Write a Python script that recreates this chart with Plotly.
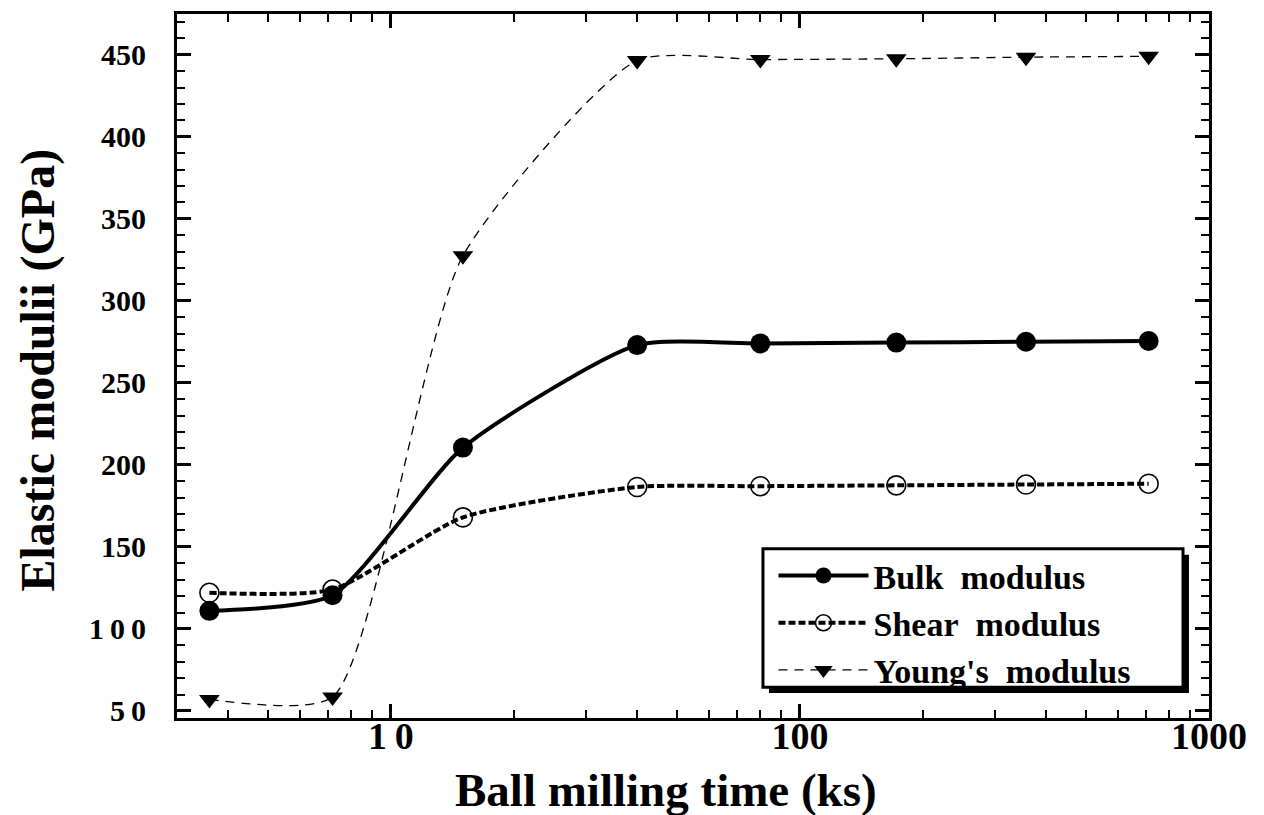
import math
import plotly.graph_objects as go

# ---- data ----
time_ks = [3.6, 7.2, 15, 40, 80, 172, 357, 712]
bulk_modulus = [111, 120.5, 210.5, 273, 274, 274.5, 275, 275.5]
shear_modulus = [122, 124, 168, 186.5, 187, 187.5, 188, 188.5]
youngs_modulus = [57, 58.5, 327.5, 446.5, 447, 447.5, 448.5, 449]

series_names = ["Bulk\u00a0 modulus", "Shear\u00a0 modulus", "Young's\u00a0 modulus"]

y_tick_vals = [50, 100, 150, 200, 250, 300, 350, 400, 450]
y_tick_text = ["5\u20090", "1\u20090\u20090", "150", "200", "250", "300", "350", "400", "450"]
y_minor_vals = [v for v in range(50, 471, 10) if v % 50 != 0]

x_tick_vals = [10, 100, 1000]
x_tick_text = ["1\u20090", "100", "1000"]
x_minor_vals = [m * d for d in (1, 10, 100) for m in range(2, 10) if 3 < m * d < 1000]

FONT = "Liberation Serif, Times New Roman, serif"

fig = go.Figure()

fig.add_trace(go.Scatter(
    x=time_ks, y=youngs_modulus, name=series_names[2], legendrank=3,
    mode="lines+markers",
    line=dict(color="black", width=1.3, dash="9px,7px", shape="spline", smoothing=0.6),
    marker=dict(symbol="triangle-down", size=18, color="black"),
))
fig.add_trace(go.Scatter(
    x=time_ks, y=shear_modulus, name=series_names[1], legendrank=2,
    mode="lines+markers",
    line=dict(color="black", width=4, dash="7px,3px", shape="spline", smoothing=0.6),
    marker=dict(symbol="circle-open", size=19, color="black", line=dict(width=1.6, color="black")),
))
fig.add_trace(go.Scatter(
    x=time_ks, y=bulk_modulus, name=series_names[0], legendrank=1,
    mode="lines+markers",
    line=dict(color="black", width=4, shape="spline", smoothing=0.6),
    marker=dict(symbol="circle", size=20, color="black"),
))

axis_common = dict(
    showline=True, linecolor="black", linewidth=3, mirror="ticks",
    ticks="inside", ticklen=14, tickwidth=2.5, tickcolor="black",
    showgrid=False, zeroline=False,
)

fig.update_xaxes(
    type="log", range=[math.log10(3.0), 3.0],
    tickmode="array", tickvals=x_tick_vals, ticktext=x_tick_text,
    tickfont=dict(family=FONT, size=38, color="black", weight="bold"),
    ticklabelstandoff=-18,
    minor=dict(tickmode="array", tickvals=x_minor_vals, ticks="inside",
               ticklen=8, tickwidth=2, tickcolor="black", showgrid=False),
    **axis_common,
)
fig.update_yaxes(
    range=[45.7, 474.8],
    tickmode="array", tickvals=y_tick_vals, ticktext=y_tick_text,
    tickfont=dict(family=FONT, size=30, color="black", weight="bold"),
    ticklabelstandoff=22,
    minor=dict(tickmode="array", tickvals=y_minor_vals, ticks="inside",
               ticklen=8, tickwidth=2, tickcolor="black", showgrid=False),
    **axis_common,
)

fig.update_layout(
    width=1264, height=815,
    margin=dict(l=177, r=55, t=11, b=97),
    paper_bgcolor="white", plot_bgcolor="white",
    font=dict(family=FONT, color="black", weight="bold"),
    showlegend=True,
    legend=dict(
        x=0.578, y=0.243, xanchor="left", yanchor="top",
        bgcolor="rgba(0,0,0,0)", borderwidth=0,
        font=dict(family=FONT, size=34, color="black", weight="bold"),
        itemwidth=90, tracegroupgap=0,
    ),
    shapes=[
        # drop shadow of the legend box
        dict(type="rect", xref="paper", yref="paper",
             x0=0.5736, x1=0.9806, y0=0.0354, y1=0.2320,
             fillcolor="black", line=dict(width=0), layer="above"),
        # legend box
        dict(type="rect", xref="paper", yref="paper",
             x0=0.5678, x1=0.9748, y0=0.0438, y1=0.2405,
             fillcolor="white", line=dict(width=3, color="black"), layer="above"),
    ],
    annotations=[
        dict(text="Ball milling time (ks)", xref="paper", yref="paper",
             x=0.4738, y=-0.1018, xanchor="center", yanchor="middle",
             showarrow=False, font=dict(family=FONT, size=47, color="black", weight="bold")),
        dict(text="Elastic modulii (GPa)", xref="paper", yref="paper",
             x=-0.1347, y=0.495, xanchor="center", yanchor="middle", textangle=-90,
             showarrow=False, font=dict(family=FONT, size=48, color="black", weight="bold")),
    ],
)

fig.write_html("out.html")
